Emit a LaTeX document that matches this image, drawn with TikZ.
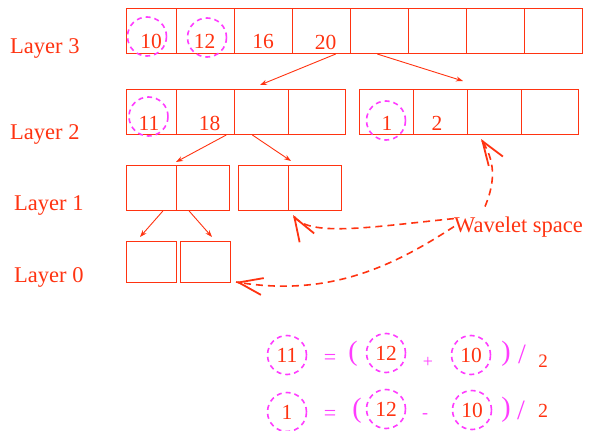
\documentclass[tikz,border=0pt]{standalone}
\usepackage{fontspec}
\setmainfont{Liberation Serif}
\usetikzlibrary{positioning}
\usetikzlibrary{calc}
\usetikzlibrary{arrows.meta}
\definecolor{laycol}{RGB}{255,51,17}
\definecolor{circcol}{RGB}{255,60,255}

\begin{document}
\begin{tikzpicture}[x=1pt,y=-1pt]

		\tikzset{cell/.style = {shape=rectangle,draw=laycol,line width=1pt,inner sep=0pt,anchor=north west,minimum height=45pt}}
		\tikzset{num/.style = {text=laycol,font=\fontsize{21.5}{21.5}\selectfont,anchor=base,inner sep=0pt}}
		\tikzset{lab/.style = {text=laycol,font=\fontsize{22.5}{22.5}\selectfont,anchor=base west,inner sep=0pt}}
		\tikzset{dcirc/.style = {shape=circle,draw=circcol,dashed,dash pattern=on 5pt off 4pt,line width=1.6pt,inner sep=0pt,minimum size=39pt}}
		\tikzset{opsym/.style = {text=circcol,font=\fontsize{22}{22}\selectfont,inner sep=0pt}}
		\tikzset{edge/.style = {draw=laycol,line width=0.9pt,-{Stealth[length=7pt,width=5pt]}}}
		\tikzset{wave/.style = {draw=laycol,line width=1.6pt,dashed,dash pattern=on 7pt off 5pt}}
		\tikzset{wavehead/.style = {draw=laycol,line width=1.8pt,solid,-{Straight Barb[length=24pt,width=17pt,line width=1.8pt]}}}

		\useasboundingbox (0,0) rectangle (589,431);

		% labels
		\node[lab] (L3) at (10,53) {Layer 3};
		\node[lab] (L2) at (10,139) {Layer 2};
		\node[lab] (L1) at (14,210) {Layer 1};
		\node[lab] (L0) at (14,282) {Layer 0};

		% layer 3
		\node[cell, minimum width=49.5pt] (l3a) at (126,8) {};
		\node[cell, minimum width=58pt] (l3b) at (175.5,8) {};
		\node[cell, minimum width=58pt] (l3c) at (233.5,8) {};
		\node[cell, minimum width=58pt] (l3d) at (291.5,8) {};
		\node[cell, minimum width=58pt] (l3e) at (349.5,8) {};
		\node[cell, minimum width=58pt] (l3f) at (407.5,8) {};
		\node[cell, minimum width=58pt] (l3g) at (465.5,8) {};
		\node[cell, minimum width=58pt] (l3h) at (523.5,8) {};

		\node[num] (n10) at (151,48.5) {10};
		\node[num] (n12) at (204.5,48.5) {12};
		\node[num] (n16) at (263,48.5) {16};
		\node[num] (n20) at (325.5,49) {20};
		\node[dcirc] (c10) at (147,36.5) {};
		\node[dcirc] (c12) at (207,37.5) {};

		% layer 2
		\node[cell, minimum width=49.5pt] (l2a) at (126,89) {};
		\node[cell, minimum width=58pt] (l2b) at (175.5,89) {};
		\node[cell, minimum width=54.5pt] (l2c) at (233.5,89) {};
		\node[cell, minimum width=57pt] (l2d) at (288,89) {};
		\node[cell, minimum width=54pt] (l2e) at (359,89) {};
		\node[cell, minimum width=54pt] (l2f) at (413,89) {};
		\node[cell, minimum width=54pt] (l2g) at (467,89) {};
		\node[cell, minimum width=57pt] (l2h) at (521,89) {};

		\node[num] (n11) at (149,130) {11};
		\node[num] (n18) at (209.5,130) {18};
		\node[num] (n1) at (387,130) {1};
		\node[num] (n2) at (437,130) {2};
		\node[dcirc] (c11) at (148.5,116.5) {};
		\node[dcirc] (c1) at (386,120.5) {};

		% layer 1
		\node[cell, minimum width=49.5pt] (l1a) at (126,165) {};
		\node[cell, minimum width=53.5pt] (l1b) at (175.5,165) {};
		\node[cell, minimum width=49.5pt] (l1c) at (238,165) {};
		\node[cell, minimum width=53.5pt] (l1d) at (287.5,165) {};

		% layer 0
		\node[cell, minimum width=49.5pt, minimum height=41pt] (l0a) at (126,241) {};
		\node[cell, minimum width=49.5pt, minimum height=41pt] (l0b) at (180,241) {};

		\node[lab] (ws) at (454,232) {Wavelet space};

		% formulas
		\node[dcirc,num,anchor=center] (f11) at (287,355) {11};
		\node[opsym] (feq1) at (330,359) {=};
		\node[opsym,font=\fontsize{28}{28}\selectfont] (flp1) at (353,354) {(};
		\node[dcirc,num,anchor=center] (f12a) at (386,353) {12};
		\node[opsym,font=\fontsize{18}{18}\selectfont] (fpl) at (428,362) {+};
		\node[dcirc,num,anchor=center] (f10a) at (471,355) {10};
		\node[opsym,font=\fontsize{28}{28}\selectfont] (frp1) at (506,354) {)};
		\node[opsym,font=\fontsize{28}{28}\selectfont] (fsl1) at (522,354) {/};
		\node[num,anchor=center,font=\fontsize{19}{19}\selectfont] (ftw1) at (543,361) {2};

		\node[dcirc,num,anchor=center] (f1) at (287,412) {1};
		\node[opsym] (feq2) at (330,415) {=};
		\node[opsym,font=\fontsize{28}{28}\selectfont] (flp2) at (357,411) {(};
		\node[dcirc,num,anchor=center] (f12b) at (386,409) {12};
		\node[opsym,font=\fontsize{18}{18}\selectfont] (fmi) at (425,416) {-};
		\node[dcirc,num,anchor=center] (f10b) at (472,410) {10};
		\node[opsym,font=\fontsize{28}{28}\selectfont] (frp2) at (506,410) {)};
		\node[opsym,font=\fontsize{28}{28}\selectfont] (fsl2) at (521,410) {/};
		\node[num,anchor=center,font=\fontsize{20}{20}\selectfont] (ftw2) at (543,411) {2};

		% tips
		\coordinate (tA) at (260,85);
		\coordinate (tB) at (463,81);
		\coordinate (tC) at (176,162);
		\coordinate (tD) at (291,161);
		\coordinate (tE) at (140,237);
		\coordinate (tF) at (212,237);
		\coordinate (wA) at (293,215);
		\coordinate (wB) at (236,282);
		\coordinate (wC) at (481,139);
		\coordinate (kA) at (307,238);
		\coordinate (kB) at (330,298);
		\coordinate (kC) at (495,160);

		%edges
		\draw[edge] ($(l3d.south west)!0.75!(l3d.south east)$) to (tA);
		\draw[edge] ($(l3e.south west)!0.47!(l3e.south east)$) to (tB);
		\draw[edge] ($(l2b.south west)!0.86!(l2b.south east)$) to (tC);
		\draw[edge] ($(l2c.south west)!0.34!(l2c.south east)$) to (tD);
		\draw[edge] ($(l1a.south west)!0.73!(l1a.south east)$) to (tE);
		\draw[edge] ($(l1b.south west)!0.25!(l1b.south east)$) to (tF);

		\draw[wave] (ws.west) ++(0,-8) .. controls (370,227) and (kA) .. (wA);
		\draw[wave] (ws.west) ++(0,0) .. controls (395,265) and (kB) .. (wB);
		\draw[wave] (ws.west) ++(31,-20) .. controls (496,180) and (kC) .. (wC);
		\draw[wavehead] ($(wA)!2pt!(kA)$) -- (wA);
		\draw[wavehead] ($(wB)!2pt!(kB)$) -- (wB);
		\draw[wavehead] ($(wC)!2pt!(kC)$) -- (wC);

\end{tikzpicture}
\end{document}
